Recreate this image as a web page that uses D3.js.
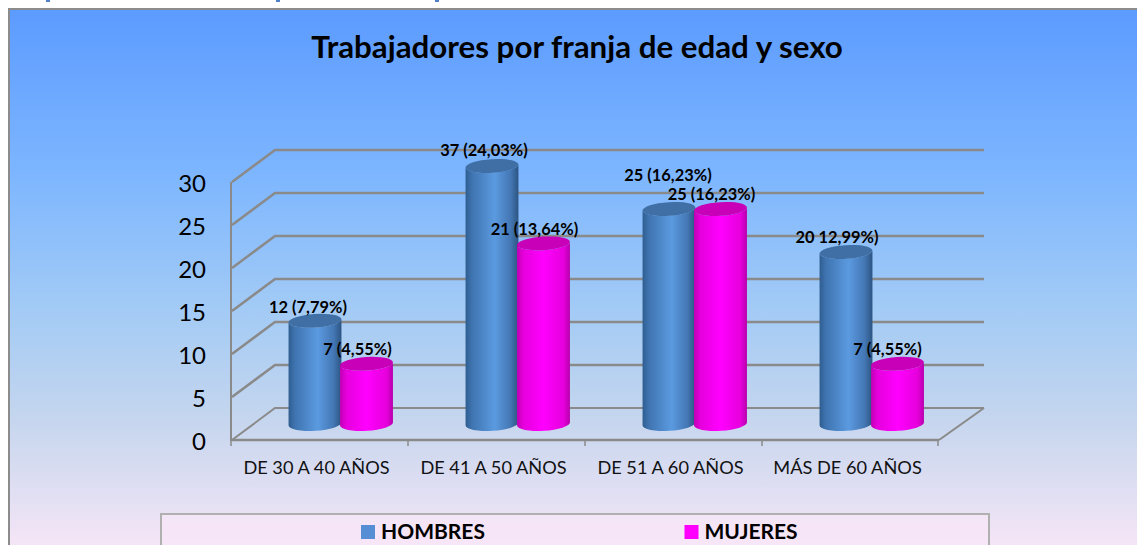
<!DOCTYPE html>
<html><head><meta charset="utf-8">
<script src="https://cdn.jsdelivr.net/npm/d3@7"></script>
<style>html,body{margin:0;padding:0;background:#fff;overflow:hidden}svg{display:block}text{font-family:Lato,"Open Sans",sans-serif}</style>
</head><body><svg id="c" width="1137" height="545"></svg>
<script>
const titleText = "Trabajadores por franja de edad y sexo";
const categories = ["DE 30 A 40 AÑOS","DE 41 A 50 AÑOS","DE 51 A 60 AÑOS","MÁS DE 60 AÑOS"];
const seriesNames = ["HOMBRES","MUJERES"];
const hombres = [12,37,25,20];
const mujeres = [7,21,25,7];
const hombresLabels = ["12 (7,79%)","37 (24,03%)","25 (16,23%)","20 12,99%)"];
const mujeresLabels = ["7 (4,55%)","21 (13,64%)","25 (16,23%)","7 (4,55%)"];
const yTicks = [0,5,10,15,20,25,30];

const svg = d3.select("#c");
const defs = svg.append("defs");
const bg = defs.append("linearGradient").attr("id","bg").attr("x1",0).attr("y1",0).attr("x2",0).attr("y2",1);
[[0,"#5c9bff"],[.3,"#7db6ff"],[.55,"#a3cbf5"],[.75,"#c6d6ee"],[1,"#fae7f7"]].forEach(s=>bg.append("stop").attr("offset",s[0]).attr("stop-color",s[1]));
function cyl(id,stops){const g=defs.append("linearGradient").attr("id",id);stops.forEach(s=>g.append("stop").attr("offset",s[0]).attr("stop-color",s[1]));}
cyl("gH",[[0,"#2f5e90"],[.12,"#3f74b0"],[.55,"#5b9ae0"],[.85,"#4477b4"],[1,"#2c5582"]]);
cyl("gM",[[0,"#c000b4"],[.12,"#e600dc"],[.5,"#ff00ff"],[.88,"#e600dc"],[1,"#b800ac"]]);

// top strip fragments of cut-off page text
svg.append("g").selectAll("rect").data([46,276,435]).join("rect")
  .attr("x",d=>d).attr("y",0).attr("width",4).attr("height",2).attr("fill","#4f81c8");

// panel
svg.append("rect").attr("x",9).attr("y",9).attr("width",1140).attr("height",550)
  .attr("fill","url(#bg)").attr("stroke","#8c8c8c").attr("stroke-width",2);

svg.append("text").text(titleText).attr("x",577).attr("y",58).attr("text-anchor","middle")
  .attr("font-size",31.3).attr("font-weight",700).attr("fill","#000");

// scales: front plane and back wall
const yFront = d3.scaleLinear().domain([0,30]).range([440,182]);
const yBack = d3.scaleLinear().domain([0,30]).range([408,150]);
const yBar = d3.scaleLinear().domain([0,30]).range([424,166]).clamp(true);
const xFront = d3.scaleBand().domain(categories).range([231,939]);

const wall = svg.append("g").attr("fill","none").attr("stroke","#8a8a8a");
yTicks.forEach(t=>{
  wall.append("path").attr("stroke-width",t===0?2:2.5)
    .attr("d",d3.line()([[232,yFront(t)],[275,yBack(t)],[984,yBack(t)]]));
});
// floor
wall.append("path").attr("stroke-width",2).attr("d",d3.line()([[984,yBack(0)],[xFront.range()[1],yFront(0)]]));
wall.append("line").attr("x1",231).attr("x2",231).attr("y1",yFront(30)).attr("y2",yFront(0)+1).attr("stroke-width",2);
wall.append("line").attr("x1",xFront.range()[0]).attr("x2",xFront.range()[1]).attr("y1",yFront(0)).attr("y2",yFront(0)).attr("stroke-width",2.5);
xFront.domain().concat([null]).forEach(c=>{
  const x = c===null? xFront.range()[1]-1 : xFront(c);
  wall.append("line").attr("x1",x).attr("x2",x).attr("y1",yFront(0)).attr("y2",yFront(0)+6).attr("stroke-width",1.5);
});

// axis labels
const axisL = d3.axisLeft(yFront).tickValues(yTicks).tickSize(0).tickPadding(25);
const gy = svg.append("g").attr("transform","translate(231,1.5)").call(axisL);
gy.select(".domain").remove();
gy.selectAll("text").attr("font-size",24).attr("fill","#000").style("font-family","Lato");

const axisB = d3.axisBottom(xFront).tickSize(0).tickPadding(21);
const gx = svg.append("g").attr("transform","translate(-3,440)").call(axisB);
gx.select(".domain").remove();
gx.selectAll("text").attr("font-size",18.2).attr("fill","#111").style("font-family","Lato");

// bars
const barOffset = d3.scaleOrdinal().domain(seriesNames).range([84,135.5]);
const rx = 26.5, ry = 6.8, tilt = -3.5;
const bodyPath = (cx,top,base)=>{
  const a=tilt*Math.PI/180, dx=rx*Math.cos(a), dy=rx*Math.sin(a);
  return `M${cx-dx},${top-dy}L${cx-dx},${base-dy}A${rx},${ry} ${tilt} 0 0 ${cx+dx},${base+dy}L${cx+dx},${top+dy}A${rx},${ry} ${tilt} 0 1 ${cx-dx},${top-dy}Z`;
};
function drawSeries(name,values,fill,topFill){
  const g = svg.append("g");
  values.forEach((v,i)=>{
    const cx = xFront(categories[i])+barOffset(name);
    const top = yBar(v), base = yBar(0);
    g.append("path").attr("d",bodyPath(cx,top,base)).attr("fill",fill);
    g.append("ellipse").attr("rx",rx).attr("ry",ry).attr("fill",topFill)
      .attr("transform",`translate(${cx},${top}) rotate(${tilt})`);
  });
}
drawSeries(seriesNames[0],hombres,"url(#gH)","#3f6fa5");
drawSeries(seriesNames[1],mujeres,"url(#gM)","#c800b8");

// data labels
const lift0 = [14,16,34,15], shift0 = [-7,-8,-1,-9];
const lift1 = [15,14,15,15], shift1 = [-9,-9,-9,-10];
const lab = svg.append("g").attr("font-size",16.4).attr("font-weight",700).attr("fill","#000").attr("text-anchor","middle");
hombres.forEach((v,i)=>{
  lab.append("text").text(hombresLabels[i])
    .attr("x",xFront(categories[i])+barOffset(seriesNames[0])+shift0[i])
    .attr("y",yBar(v)-lift0[i]+6);
});
mujeres.forEach((v,i)=>{
  lab.append("text").text(mujeresLabels[i])
    .attr("x",xFront(categories[i])+barOffset(seriesNames[1])+shift1[i])
    .attr("y",yBar(v)-lift1[i]+6);
});

// legend
svg.append("rect").attr("x",161).attr("y",514).attr("width",828).attr("height",50)
  .attr("fill","#f7e6f7").attr("fill-opacity",.75).attr("stroke","#b0b0b0").attr("stroke-width",2);
const legX = d3.scaleOrdinal().domain(seriesNames).range([361,684.5]);
const legColor = d3.scaleOrdinal().domain(seriesNames).range(["#558ed5","#ff00ff"]);
seriesNames.forEach(n=>{
  svg.append("rect").attr("x",legX(n)).attr("y",525).attr("width",14).attr("height",14).attr("fill",legColor(n));
  svg.append("text").text(n).attr("x",legX(n)+20).attr("y",539).attr("font-size",21).attr("font-weight",700).attr("fill","#000");
});
</script></body></html>
